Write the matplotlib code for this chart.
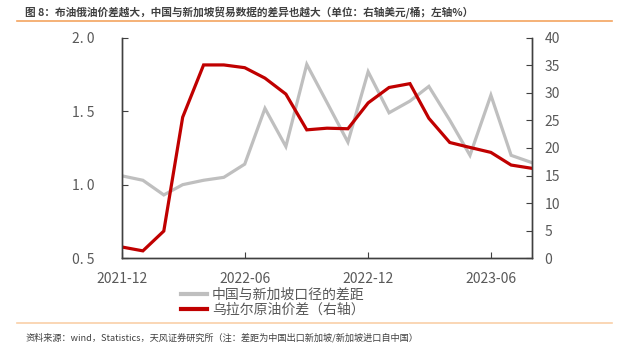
import numpy as np
import pandas as pd
import matplotlib
matplotlib.use("Agg")
import matplotlib.pyplot as plt
from matplotlib.lines import Line2D

plt.rcParams['font.family'] = ['Noto Sans CJK SC', 'DejaVu Sans']

# 数据：2021-12 至 2023-08，月度
months = pd.date_range("2021-12-01", "2023-08-01", freq="MS")
gap_cn_sg = [1.06, 1.03, 0.93, 1.00, 1.03, 1.05, 1.14, 1.52, 1.26, 1.82, 1.56,
             1.29, 1.77, 1.49, 1.57, 1.67, 1.44, 1.20, 1.61, 1.20, 1.15]
urals_spread = [2.0, 1.3, 4.9, 25.6, 35.1, 35.1, 34.6, 32.7, 29.8, 23.3, 23.6,
                23.5, 28.2, 31.0, 31.7, 25.4, 21.0, 20.1, 19.2, 16.9, 16.3]
xticks = ["2021-12", "2022-06", "2022-12", "2023-06"]

gray = "#BFBFBF"
red = "#C00000"
txt = "#595959"

fig = plt.figure(figsize=(6.33, 3.59), dpi=100)
ax = fig.add_axes([0.1927, 0.2813, 0.6478, 0.6129])
ax2 = ax.twinx()

ax.plot(months, gap_cn_sg, color=gray, lw=2.3, solid_joinstyle='miter')
ax2.plot(months, urals_spread, color=red, lw=2.3, solid_joinstyle='miter')

ax.set_xlim(months[0], months[-1])
ax.set_ylim(0.5, 2.0)
ax2.set_ylim(0, 40)
ax.set_yticks([0.5, 1.0, 1.5, 2.0])
ax.set_yticklabels(["0. 5", "1. 0", "1. 5", "2. 0"])
ax2.set_yticks(range(0, 41, 5))
ax.set_xticks([pd.Timestamp(t + "-01") for t in xticks])
ax.set_xticklabels(xticks)

for a in (ax, ax2):
    a.spines['top'].set_visible(False)
    for s in ('left', 'right', 'bottom'):
        a.spines[s].set_color("#404040")
        a.spines[s].set_linewidth(1.0)
    a.tick_params(direction='in', length=4, width=0.8, color="#404040",
                  labelcolor=txt, labelsize=10)
ax.tick_params(axis='y', pad=20)
ax.tick_params(axis='x', pad=10)
ax2.tick_params(axis='y', pad=9)

handles = [Line2D([], [], color=gray, lw=3), Line2D([], [], color=red, lw=3)]
leg = fig.legend(handles, ["中国与新加坡口径的差距", "乌拉尔原油价差（右轴）"],
                 loc='upper center', bbox_to_anchor=(0.431, 0.199), ncol=1,
                 frameon=False, fontsize=10, handlelength=1.9, handletextpad=0.35,
                 labelspacing=0.1, borderpad=0.0, borderaxespad=0.0)
for t in leg.get_texts():
    t.set_color(txt)

fig.text(0.04, 0.9666, "图 8：布油俄油价差越大，中国与新加坡贸易数据的差异也越大（单位：右轴美元/桶；左轴%）",
         fontsize=7.7, fontweight='bold', color="#404040", va='center')
fig.add_artist(Line2D([0.027, 0.967], [0.9415, 0.9415], color="#F4A460", lw=1.2))
fig.add_artist(Line2D([0.027, 0.967], [0.1003, 0.1003], color="#FAD0A8", lw=1.2))
fig.text(0.04, 0.0585, "资料来源：wind，Statistics，天风证券研究所（注：差距为中国出口新加坡/新加坡进口自中国）",
         fontsize=6.6, color="#404040", va='center')

fig.savefig("out.png", dpi=100)
